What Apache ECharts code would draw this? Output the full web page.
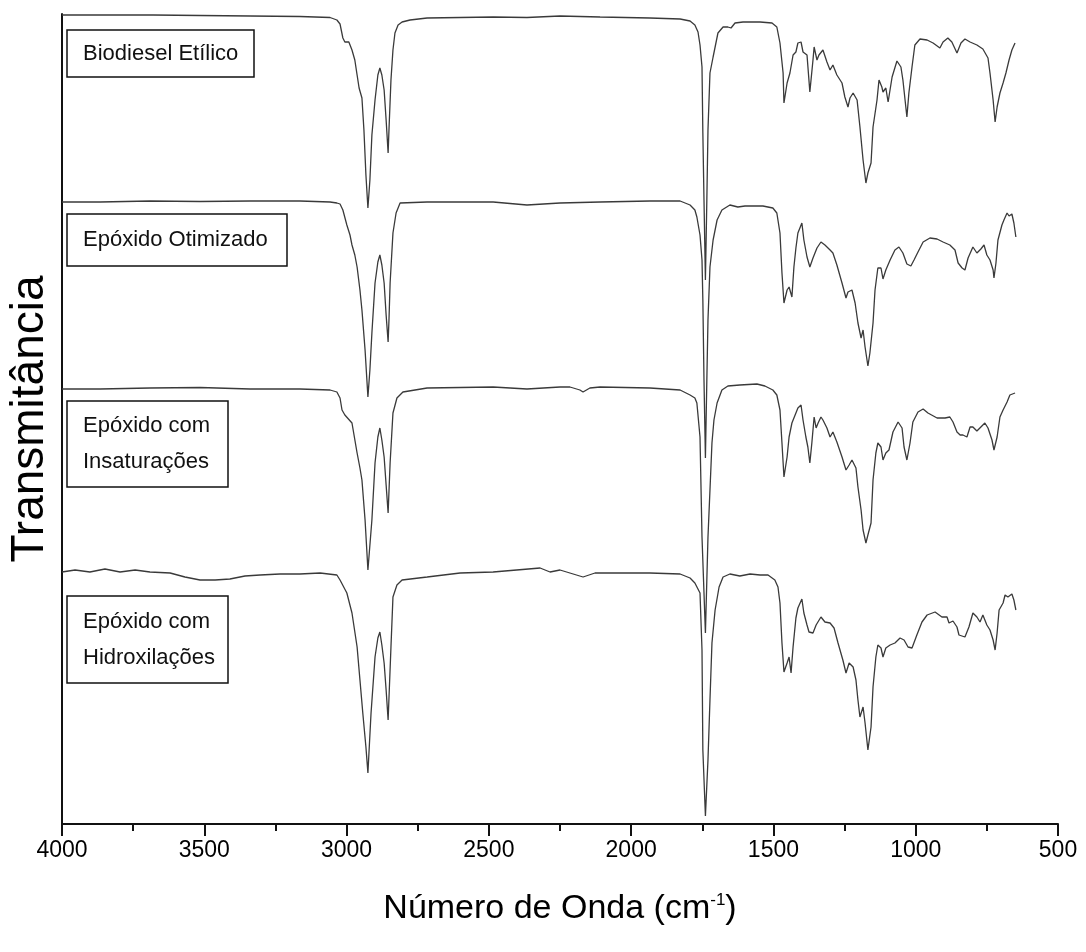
<!DOCTYPE html>
<html>
<head>
<meta charset="utf-8">
<script src="https://cdn.jsdelivr.net/npm/echarts@6/dist/echarts.min.js"></script>
<style>
html,body{margin:0;padding:0;background:#fff;}
#chart{width:1086px;height:952px;}
</style>
</head>
<body>
<div id="chart"></div>
<script>
// Wavenumber ticks (cm-1)
const xTicks = [4000, 3500, 3000, 2500, 2000, 1500, 1000, 500];
const seriesNames = ['Biodiesel Etílico', 'Epóxido Otimizado', 'Epóxido com Insaturações', 'Epóxido com Hidroxilações'];

// Spectra: [wavenumber, transmittance (arbitrary units, stacked offsets)]
const biodieselEtilico = [[4000,80.9],[3866,80.9],[3680,80.9],[3515,80.85],[3339,80.8],[3164,80.75],[3058,80.65],[3034,80.4],[3023,80.0],[3013,78.6],[3006,78.2],[2999,78.4],[2992,78.2],[2981,77.4],[2971,76.4],[2963,74.9],[2956,73.6],[2946,72.6],[2939,69.4],[2932,64.9],[2925,61.6],[2918,64.4],[2911,68.9],[2900,72.4],[2890,74.9],[2883,75.6],[2876,74.9],[2868,73.4],[2861,70.4],[2854,67.1],[2851,69.4],[2844,74.4],[2837,77.4],[2830,79.1],[2819,79.9],[2805,80.2],[2777,80.4],[2717,80.6],[2485,80.7],[2366,80.65],[2250,80.8],[2109,80.7],[1934,80.6],[1828,80.5],[1793,80.3],[1776,79.9],[1765,79.2],[1758,77.9],[1751,75.7],[1748,69.1],[1744,62.4],[1739,54.4],[1734,62.4],[1730,69.4],[1723,75.1],[1712,76.7],[1695,79.1],[1677,79.7],[1660,79.7],[1649,79.6],[1635,80.1],[1607,80.2],[1547,80.2],[1505,80.1],[1488,79.7],[1477,78.1],[1466,75.1],[1463,72.1],[1452,74.1],[1442,75.1],[1431,76.9],[1421,77.2],[1414,78.1],[1403,78.2],[1396,77.2],[1382,76.9],[1372,73.2],[1361,76.4],[1357,77.7],[1347,76.4],[1340,76.9],[1326,77.4],[1312,76.2],[1301,75.4],[1291,75.9],[1277,74.9],[1259,74.1],[1249,72.7],[1238,71.7],[1231,72.6],[1220,73.1],[1206,72.4],[1196,69.7],[1185,66.4],[1175,64.1],[1168,65.1],[1157,66.1],[1150,69.7],[1136,72.4],[1129,74.4],[1119,73.7],[1115,73.2],[1105,73.6],[1097,72.2],[1083,74.7],[1066,76.3],[1052,75.7],[1045,74.4],[1031,70.7],[1024,73.1],[1013,75.7],[1003,77.9],[985,78.5],[960,78.4],[939,78.1],[915,77.6],[904,78.2],[887,78.6],[873,78.2],[855,77.1],[841,78.1],[827,78.5],[809,78.2],[785,77.9],[764,77.5],[746,76.6],[739,75.1],[728,72.4],[721,70.2],[714,71.7],[704,73.1],[693,74.1],[683,75.1],[672,76.4],[662,77.4],[651,78.1]];

const epoxidoOtimizado = [[4000,62.2],[3866,62.2],[3691,62.3],[3515,62.25],[3339,62.3],[3164,62.3],[3058,62.2],[3034,62.1],[3023,62.0],[3013,61.4],[2999,59.9],[2988,58.9],[2981,57.9],[2971,56.9],[2963,55.7],[2953,53.4],[2946,51.4],[2935,47.4],[2925,42.7],[2918,45.4],[2911,49.1],[2900,54.1],[2890,56.2],[2883,56.9],[2876,55.9],[2868,54.1],[2861,50.9],[2854,48.2],[2851,50.4],[2847,54.1],[2837,59.1],[2826,61.1],[2812,62.1],[2717,62.2],[2485,62.2],[2366,61.9],[2250,62.1],[2109,62.2],[1934,62.3],[1828,62.3],[1793,61.9],[1776,61.4],[1769,60.7],[1758,58.9],[1751,56.4],[1748,52.4],[1744,44.4],[1739,36.6],[1734,44.4],[1730,50.4],[1723,55.7],[1712,58.4],[1698,60.4],[1681,61.4],[1653,61.9],[1625,61.7],[1600,61.8],[1537,61.8],[1502,61.6],[1488,61.1],[1477,59.1],[1470,55.1],[1463,52.1],[1452,53.4],[1445,53.7],[1435,52.7],[1428,55.7],[1421,57.6],[1414,59.1],[1400,60.1],[1393,58.4],[1382,56.7],[1372,55.7],[1361,56.6],[1347,57.6],[1333,58.2],[1319,57.9],[1301,57.4],[1291,57.1],[1277,55.9],[1259,54.1],[1245,52.6],[1238,53.2],[1224,53.4],[1213,52.1],[1203,50.1],[1192,48.6],[1185,49.4],[1178,47.7],[1168,45.8],[1161,47.1],[1150,50.1],[1143,53.4],[1133,55.6],[1122,55.6],[1115,54.5],[1105,55.4],[1090,56.4],[1073,57.4],[1059,57.7],[1045,57.1],[1031,56.0],[1017,55.8],[1006,56.4],[992,57.2],[974,58.2],[950,58.6],[925,58.5],[904,58.2],[880,57.9],[862,57.4],[851,56.1],[837,55.6],[827,55.4],[816,56.6],[799,57.7],[785,57.1],[771,57.5],[760,57.9],[750,56.9],[739,56.4],[728,55.4],[725,54.6],[718,56.1],[711,58.4],[697,59.9],[690,60.4],[679,61.1],[672,60.8],[662,61.0],[655,60.1],[648,58.7]];

const epoxidoInsaturacoes = [[4000,43.5],[3866,43.5],[3691,43.6],[3515,43.65],[3339,43.5],[3164,43.5],[3058,43.4],[3034,43.2],[3023,42.6],[3016,41.4],[3006,40.9],[2999,41.1],[2981,40.1],[2963,37.1],[2953,35.6],[2946,34.4],[2935,30.4],[2925,25.4],[2911,30.4],[2900,36.1],[2890,38.7],[2883,39.6],[2876,38.4],[2868,36.7],[2861,33.9],[2854,31.1],[2847,36.1],[2837,41.1],[2823,42.6],[2802,43.2],[2717,43.6],[2485,43.7],[2366,43.5],[2250,43.7],[2215,43.7],[2180,43.4],[2169,43.2],[2145,43.6],[2109,43.7],[1934,43.6],[1828,43.4],[1793,42.9],[1776,42.6],[1769,42.1],[1758,38.7],[1751,28.7],[1739,19.1],[1730,28.7],[1716,38.1],[1709,40.4],[1698,42.1],[1681,43.4],[1660,43.8],[1618,43.9],[1558,44.0],[1530,43.8],[1502,43.4],[1488,42.9],[1477,41.4],[1470,38.1],[1463,34.7],[1452,36.7],[1445,38.7],[1435,40.1],[1428,40.6],[1421,40.7],[1414,41.6],[1403,41.9],[1396,40.4],[1386,38.7],[1379,37.7],[1372,36.1],[1365,38.1],[1357,40.7],[1350,39.6],[1343,40.1],[1333,40.7],[1326,40.4],[1312,39.6],[1301,38.7],[1291,39.2],[1277,38.2],[1259,36.7],[1245,35.4],[1234,35.9],[1224,36.4],[1210,35.6],[1203,33.7],[1192,31.4],[1185,29.4],[1175,28.1],[1168,28.9],[1157,30.1],[1150,34.4],[1140,37.1],[1133,38.1],[1122,37.7],[1115,36.4],[1105,37.1],[1094,37.4],[1080,39.2],[1062,40.2],[1048,39.6],[1041,37.7],[1031,36.4],[1020,38.1],[1010,40.2],[992,41.2],[974,41.5],[957,41.1],[925,40.6],[897,40.6],[880,40.7],[869,40.2],[855,39.2],[844,38.9],[834,38.9],[820,38.7],[809,39.7],[799,39.7],[785,39.3],[771,39.7],[757,40.1],[746,39.6],[732,38.4],[725,37.4],[714,38.7],[704,40.7],[693,41.4],[679,42.2],[669,42.9],[651,43.1]];

const epoxidoHidroxilacoes = [[4000,25.2],[3954,25.4],[3902,25.2],[3849,25.5],[3796,25.2],[3743,25.4],[3691,25.2],[3620,25.1],[3568,24.7],[3515,24.4],[3462,24.4],[3410,24.5],[3357,24.8],[3304,24.9],[3234,25.0],[3164,25.0],[3093,25.1],[3034,24.9],[3023,24.4],[2999,23.1],[2981,21.1],[2963,17.7],[2953,14.4],[2943,11.1],[2932,7.7],[2925,5.1],[2914,11.1],[2900,16.7],[2890,18.6],[2883,19.2],[2876,17.9],[2868,16.1],[2861,13.4],[2854,10.4],[2844,17.7],[2837,22.7],[2823,23.9],[2805,24.4],[2717,24.7],[2601,25.1],[2485,25.2],[2320,25.6],[2285,25.2],[2250,25.4],[2169,24.7],[2127,25.1],[2039,25.1],[1934,25.1],[1828,25.0],[1793,24.6],[1776,24.1],[1758,23.1],[1751,17.4],[1748,7.4],[1739,0.8],[1730,6.4],[1723,12.4],[1716,18.1],[1705,21.4],[1691,23.7],[1677,24.7],[1653,25.0],[1618,24.8],[1582,25.0],[1547,24.9],[1519,24.9],[1495,24.4],[1484,23.7],[1477,22.1],[1470,18.1],[1463,15.2],[1452,16.1],[1445,16.7],[1438,15.1],[1431,17.7],[1421,20.6],[1414,21.6],[1400,22.5],[1393,21.1],[1382,19.9],[1375,19.2],[1361,19.1],[1350,19.9],[1333,20.7],[1319,20.2],[1301,20.1],[1287,19.6],[1273,18.1],[1256,16.4],[1245,15.1],[1234,16.1],[1220,15.7],[1210,14.4],[1203,12.4],[1196,10.7],[1185,11.7],[1178,10.1],[1168,7.4],[1157,9.7],[1150,13.7],[1140,16.7],[1133,17.9],[1122,17.6],[1115,16.7],[1105,17.6],[1090,17.9],[1073,18.1],[1055,18.6],[1041,18.4],[1027,17.7],[1013,17.6],[996,18.9],[978,20.2],[960,20.9],[932,21.2],[908,20.7],[890,20.7],[883,20.1],[869,20.3],[855,19.7],[848,18.9],[827,18.7],[813,19.7],[799,21.1],[785,20.7],[774,20.2],[764,20.9],[750,19.9],[739,19.4],[728,18.4],[721,17.4],[714,19.1],[707,21.4],[693,22.1],[686,22.9],[676,22.7],[662,23.0],[655,22.4],[648,21.4]];

const spectra = [biodieselEtilico, epoxidoOtimizado, epoxidoInsaturacoes, epoxidoHidroxilacoes];

const chart = echarts.init(document.getElementById('chart'), null, {renderer: 'canvas'});

const FONT = '"Liberation Sans", Arial, sans-serif';

function labelBox(x, y, w, h, lines) {
  return {
    type: 'group',
    children: [{
      type: 'rect',
      shape: {x: x, y: y, width: w, height: h},
      style: {fill: '#fff', stroke: '#111', lineWidth: 1.5}
    }, {
      type: 'text',
      x: x + 16, y: y + h / 2,
      style: {
        text: lines.join('\n'),
        font: '22px ' + FONT,
        fill: '#111',
        verticalAlign: 'middle',
        align: 'left',
        lineHeight: 36
      }
    }]
  };
}

const option = {
  animation: false,
  backgroundColor: '#fff',
  grid: {left: 62, right: 28, top: 14, bottom: 128, containLabel: false, outerBoundsMode: 'none'},
  xAxis: {
    type: 'value',
    min: 500,
    max: 4000,
    interval: 500,
    inverse: true,
    name: 'Número de Onda (cm{sup|-1})',
    nameLocation: 'middle',
    nameGap: 68,
    nameTextStyle: {
      fontFamily: FONT,
      fontSize: 34,
      color: '#000',
      rich: {
        sup: {fontSize: 17, verticalAlign: 'top', padding: [0, 0, 16, 0], fontFamily: FONT, color: '#000'}
      }
    },
    axisLine: {show: true, onZero: false, lineStyle: {color: '#111', width: 2}},
    axisTick: {show: true, length: 12, inside: false, lineStyle: {color: '#111', width: 2}},
    minorTick: {show: true, splitNumber: 2, length: 7, lineStyle: {color: '#111', width: 2}},
    axisLabel: {
      show: true, margin: 15, color: '#000', fontSize: 23, fontFamily: FONT,
      formatter: function (v) { return xTicks.indexOf(v) >= 0 ? String(v) : ''; }
    },
    splitLine: {show: false},
    minorSplitLine: {show: false}
  },
  yAxis: {
    type: 'value',
    min: 0,
    max: 81,
    name: 'Transmitância',
    nameLocation: 'middle',
    nameRotate: 90,
    nameGap: 9,
    nameTextStyle: {fontFamily: FONT, fontSize: 46, color: '#000'},
    axisLine: {show: true, lineStyle: {color: '#111', width: 2}},
    axisTick: {show: false},
    axisLabel: {show: false},
    splitLine: {show: false}
  },
  series: spectra.map(function (d, i) {
    return {
      name: seriesNames[i],
      type: 'line',
      data: d,
      showSymbol: false,
      smooth: false,
      clip: true,
      lineStyle: {color: '#3a3a3a', width: 1.3},
      emphasis: {disabled: true}
    };
  }),
  graphic: [
    labelBox(67, 30, 187, 47, [seriesNames[0]]),
    labelBox(67, 214, 220, 52, [seriesNames[1]]),
    labelBox(67, 401, 161, 86, ['Epóxido com', 'Insaturações']),
    labelBox(67, 596, 161, 87, ['Epóxido com', 'Hidroxilações'])
  ]
};

chart.setOption(option);
</script>
</body>
</html>
